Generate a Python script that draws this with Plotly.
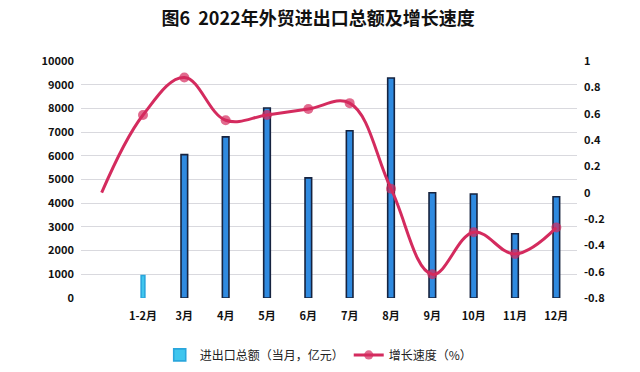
import plotly.graph_objects as go

categories = [" ", "1-2月", "3月", "4月", "5月", "6月", "7月", "8月", "9月", "10月", "11月", "12月"]
trade_total = [None, 950, 6050, 6800, 8020, 5070, 7060, 9280, 4440, 4390, 2710, 4270]
growth_rate = [0.0, 0.59, 0.875, 0.55, 0.59, 0.635, 0.68, 0.03, -0.62, -0.30, -0.465, -0.265]

left_ticks = list(range(0, 10001, 1000))
left_ticktext = [str(v) for v in left_ticks]
right_tickvals = [1, 0.8, 0.6, 0.4, 0.2, 0, -0.2, -0.4, -0.6, -0.8]
right_ticktext = ["1", "0.8", "0.6", "0.4", "0.2", "0", "-0.2", "-0.4", "-0.6", "-0.8"]

FONT = "Noto Sans CJK SC"

bar_colors = ["#3fc6ee", "#3fc6ee"] + ["#2f8ae0"] * 10
bar_line_colors = ["#2aa6dc", "#2aa6dc"] + ["#16233f"] * 10
bar_widths = [0.09, 0.09] + [0.16] * 10
marker_sizes = [0] + [10] * 11

fig = go.Figure()
fig.add_trace(go.Bar(
    x=categories, y=trade_total, name="进出口总额（当月，亿元）",
    width=bar_widths,
    marker=dict(color=bar_colors, line=dict(color=bar_line_colors, width=1.6)),
    yaxis="y",
))
fig.add_trace(go.Scatter(
    x=categories, y=growth_rate, name="增长速度（%）", mode="lines+markers",
    line=dict(color="#d42b5e", width=3, shape="spline", smoothing=1.1),
    marker=dict(size=marker_sizes, color="#d42b5e", line=dict(width=0)),
    yaxis="y2",
))

fig.update_layout(
    width=640, height=372, autosize=False,
    margin=dict(l=81, r=63, t=61, b=74, autoexpand=False),
    paper_bgcolor="white", plot_bgcolor="white",
    font=dict(family=FONT, size=11, color="#111111"),
    title=dict(text="<b>图6  2022年外贸进出口总额及增长速度</b>", x=0.497, xanchor="center",
               y=0.95, yanchor="middle", font=dict(family=FONT, size=18, color="#111111")),
    showlegend=True,
    legend=dict(orientation="h", xref="container", yref="container",
                x=0.498, xanchor="center", y=0.046, yanchor="middle",
                font=dict(family=FONT, size=12, color="#222222"), bgcolor="rgba(0,0,0,0)"),
    xaxis=dict(type="category", categoryorder="array", categoryarray=categories,
               range=[-0.5, len(categories) - 0.5],
               showgrid=False, showline=False, ticks="", zeroline=False, automargin=False,
               tickfont=dict(family=FONT, size=11, weight="bold"), ticklabelstandoff=10),
    yaxis=dict(range=[0, 10000], tickvals=left_ticks, ticktext=left_ticktext,
               showgrid=True, gridcolor="#d9d9de", automargin=False,
               gridwidth=1, zeroline=False, showline=False, ticks="",
               tickfont=dict(family=FONT, size=11, weight="bold"), ticklabelstandoff=6),
    yaxis2=dict(range=[-0.8, 1.0], tickvals=right_tickvals, ticktext=right_ticktext,
                overlaying="y", side="right", showgrid=False, zeroline=False, showline=False,
                automargin=False,
                ticks="", tickfont=dict(family=FONT, size=11, weight="bold"), ticklabelstandoff=6),
    bargap=0.8,
)

fig.write_html("out.html", config={"displayModeBar": False},
               post_script="document.body.style.margin='0';document.body.style.padding='0';")
